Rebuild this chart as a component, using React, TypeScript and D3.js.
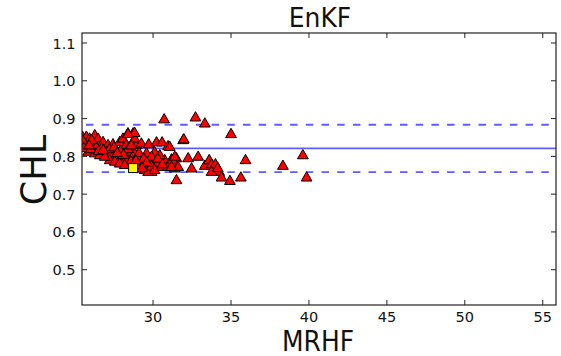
import React from "react";
import * as d3 from "d3";

const xTicks = [30, 35, 40, 45, 50, 55];
const yTicks = [0.5, 0.6, 0.7, 0.8, 0.9, 1.0, 1.1];
const meanLine = 0.821;
const upperLine = 0.8836;
const lowerLine = 0.7585;
const highlight = [28.72, 0.769];

const mrhf = [
  25.47, 25.72, 25.93, 26.26, 26.47, 26.79, 27.11, 27.43, 27.86, 28.07, 28.39, 28.72, 28.29,
  25.61, 26.04, 26.36, 26.69, 27.01, 27.33, 27.65, 27.97, 28.29, 28.61, 27.22, 27.54, 27.86,
  28.18, 25.83, 26.26, 26.58, 26.9, 28.61, 28.82, 28.93, 28.82, 25.47, 25.55, 26.06,
  28.82, 28.39, 29.25, 29.72, 30.22, 30.58, 30.96, 31.93, 30.71, 32.72, 33.32, 29.25, 29.9,
  30.32, 30.75, 31.18, 31.5, 30.54, 30.96, 31.39, 29.9, 31.5, 29.47, 29.15, 29.58, 29.0,
  29.47, 30.1, 30.43, 29.68, 32.25, 32.89, 32.47, 31.25, 31.61, 31.18, 31.39, 31.07, 31.97,
  33.32, 33.6, 33.75, 34.0, 34.24, 34.39, 33.75, 35.0, 35.93, 38.33, 39.61, 39.85, 34.93,
  35.63, 34.15,
  26.0, 26.5, 27.2, 27.5, 27.9, 28.4, 28.6, 29.1, 29.4, 29.9, 30.3, 30.6, 29.9, 29.6, 30.1,
  28.1, 28.9, 29.3, 25.9, 26.8, 27.7,
];
const chl = [
  0.853, 0.853, 0.848, 0.857, 0.848, 0.839, 0.831, 0.833, 0.839, 0.848, 0.862, 0.862, 0.831,
  0.835, 0.831, 0.826, 0.822, 0.813, 0.809, 0.804, 0.8, 0.796, 0.791, 0.791, 0.787, 0.782,
  0.778, 0.813, 0.809, 0.804, 0.8, 0.813, 0.809, 0.831, 0.848, 0.844, 0.823, 0.844,
  0.863, 0.86, 0.835, 0.833, 0.838, 0.838, 0.828, 0.844, 0.899, 0.904, 0.888, 0.796, 0.787,
  0.784, 0.791, 0.793, 0.796, 0.773, 0.773, 0.769, 0.76, 0.738, 0.765, 0.778, 0.809, 0.802,
  0.786, 0.812, 0.804, 0.76, 0.796, 0.8, 0.769, 0.791, 0.773, 0.773, 0.8, 0.826, 0.846,
  0.776, 0.791, 0.78, 0.78, 0.76, 0.745, 0.76, 0.86, 0.791, 0.776, 0.804, 0.745, 0.736,
  0.745, 0.77,
  0.82, 0.815, 0.82, 0.825, 0.815, 0.82, 0.83, 0.81, 0.795, 0.8, 0.795, 0.78, 0.775, 0.785,
  0.765, 0.805, 0.79, 0.77, 0.83, 0.818, 0.81,
];

const W = 561, H = 356;
const L = 82, R = 556, T = 33, B = 305;

function SText({ x, y, size, sy, anchor, children }: any) {
  return (
    <g transform={`translate(${x},${y}) scale(1,${sy})`}>
      <text x={0} y={0} textAnchor={anchor} fontSize={size} fill="#111">{children}</text>
    </g>
  );
}

export default function App() {
  const x = d3.scaleLinear().domain([25.44, 55.85]).range([L, R]);
  const y = d3.scaleLinear().domain([0.4066, 1.1265]).range([B, T]);
  const tri = d3.symbol().type(d3.symbolTriangle).size(50)();
  const font = "DejaVu Sans, sans-serif";
  const lineColor = "#5c5cff";
  const tl = 5;
  return (
    <svg width={W} height={H} style={{ position: "absolute", left: 0, top: 0 }} fontFamily={font}>
      <rect width={W} height={H} fill="#fff" />
      <defs>
        <clipPath id="plot">
          <rect x={L} y={T} width={R - L} height={B - T} />
        </clipPath>
      </defs>
      <g clipPath="url(#plot)">
        <line x1={L} x2={R} y1={y(meanLine)} y2={y(meanLine)} stroke={lineColor} strokeWidth={1.8} />
        <line x1={L} x2={R} y1={y(upperLine)} y2={y(upperLine)} stroke={lineColor} strokeWidth={1.8} strokeDasharray="7.5,8.2" strokeDashoffset={-4} />
        <line x1={L} x2={R} y1={y(lowerLine)} y2={y(lowerLine)} stroke={lineColor} strokeWidth={1.8} strokeDasharray="7.5,8.2" strokeDashoffset={-4} />
        {mrhf.map((v, i) => (
          <path key={i} d={tri!} transform={`translate(${x(v)},${y(chl[i]) + 0.8})`} fill="#ff0000" stroke="#000" strokeWidth={1} />
        ))}
        <rect x={x(highlight[0]) - 4.5} y={y(highlight[1]) - 4.5} width={9} height={9} fill="#ffff00" stroke="#000" strokeWidth={1} />
      </g>
      <rect x={L} y={T} width={R - L} height={B - T} fill="none" stroke="#222" strokeWidth={1.2} />
      {xTicks.map((t) => (
        <g key={t}>
          <line x1={x(t)} x2={x(t)} y1={B} y2={B - tl} stroke="#222" />
          <line x1={x(t)} x2={x(t)} y1={T} y2={T + tl} stroke="#222" />
          <SText x={x(t)} y={322} size={14.5} sy={1} anchor="middle">{t}</SText>
        </g>
      ))}
      {yTicks.map((t) => (
        <g key={t}>
          <line x1={L} x2={L + tl} y1={y(t)} y2={y(t)} stroke="#222" />
          <line x1={R} x2={R - tl} y1={y(t)} y2={y(t)} stroke="#222" />
          <SText x={L - 6.5} y={y(t) + 5.5} size={14.5} sy={1} anchor="end">{t.toFixed(1)}</SText>
        </g>
      ))}
      <SText x={320} y={27} size={25} sy={1.05} anchor="middle">EnKF</SText>
      <SText x={318} y={351} size={25} sy={1.15} anchor="middle">MRHF</SText>
      <text transform={`translate(46,${170}) rotate(-90)`} textAnchor="middle" fontSize={35} fill="#111">CHL</text>
    </svg>
  );
}
